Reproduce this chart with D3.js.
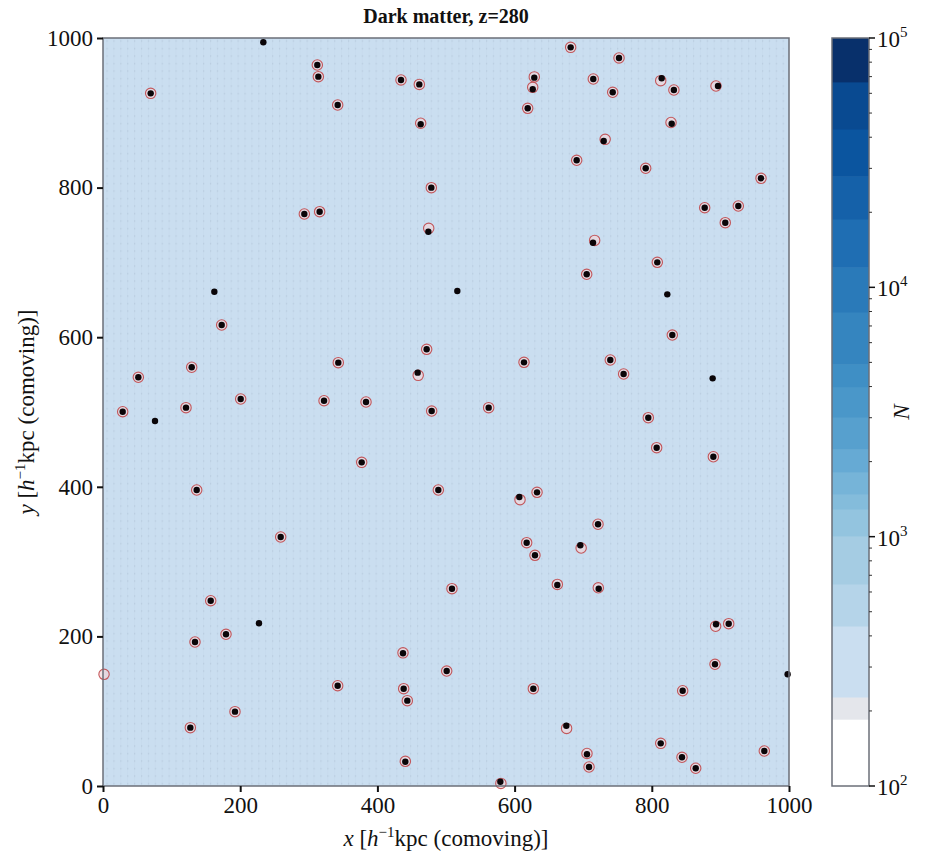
<!DOCTYPE html>
<html lang="en">
<head>
  <meta charset="UTF-8">
  <title>Dark matter, z=280</title>
  <script src="https://d3js.org/d3.v7.min.js"></script>
  <style>
    body { margin: 0; background: white; }
    text { font-family: "Liberation Serif", "DejaVu Serif", serif; fill: #111; }
  </style>
</head>
<body>
  <script>
    const width = 937;
    const height = 856;

    // ticks
    const xTicks = [0, 200, 400, 600, 800, 1000];
    const yTicks = [0, 200, 400, 600, 800, 1000];
    const cbarTicks = [1e2, 1e3, 1e4, 1e5];

    // colour levels of the density map (log10 N edges, bottom to top)
    const levelEdges = [2.0, 2.268, 2.357, 2.641, 2.810, 3.002, 3.111, 3.171, 3.259, 3.351,
                        3.480, 3.600, 3.692, 3.901, 4.081, 4.274, 4.446, 4.635, 4.824, 5.0];
    const levelColors = ["#ffffff", "#e4e6eb", "#cadef0", "#b5d4e9", "#a5cce3", "#93c4df",
                         "#84bcdb", "#76b4d8", "#66aad4", "#57a0ce", "#4a97c9", "#3f8fc5",
                         "#3585bf", "#2a7ab9", "#1f6eb3", "#1561a9", "#0b559f", "#094a91", "#08306b"];
    const backgroundLevel = 2.5;

    // black dots: particle peaks
    const dotX = [233.7, 312.4, 313.9, 69.5, 434.4, 461.1, 342.1, 463.1, 478.6, 293.5,
                  315.8, 474.3, 162.3, 173.0, 471.8, 343.0, 129.3, 51.5, 458.7, 200.7,
                  322.2, 383.4, 28.7, 121.0, 479.1,
                  75.8, 377.1, 136.6, 488.8, 259.0, 157.0, 227.4, 179.3, 134.1, 437.3,
                  501.0, 342.1, 438.3, 443.6, 192.4, 127.3, 440.7,
                  681.7, 752.2, 628.7, 626.4, 619.1, 714.7, 814.4, 743.0, 832.2, 896.5,
                  829.0, 729.9, 690.5, 791.1, 959.2, 877.1, 926.1, 907.1, 714.3, 808.0,
                  705.1, 516.5, 822.6, 829.9, 613.7, 739.5, 758.9, 888.7, 562.2,
                  794.9, 807.1, 889.7, 606.9, 632.7, 721.6, 695.8, 617.6, 629.7, 662.3,
                  722.6, 508.7, 893.6, 912.1, 892.1, 998.0, 627.3, 845.0, 675.4, 813.0,
                  705.5, 708.5, 844.0, 864.0, 964.0, 579.2];
    const dotY = [994.3, 963.9, 948.3, 926.0, 943.9, 938.0, 910.4, 884.6, 799.9, 764.7,
                  767.8, 741.0, 660.8, 616.3, 583.8, 566.0, 559.8, 546.4, 552.6, 517.4,
                  515.1, 513.4, 500.4, 505.8, 501.3,
                  488.0, 432.7, 395.7, 395.7, 332.9, 247.7, 217.5, 202.8, 192.5, 177.4,
                  153.7, 134.1, 130.1, 114.1, 99.4, 78.0, 32.5,
                  987.5, 973.3, 947.0, 931.4, 906.0, 945.2, 946.1, 927.4, 930.5, 935.8,
                  885.4, 862.3, 836.5, 825.8, 812.4, 773.1, 775.4, 753.1, 726.3, 700.1,
                  684.1, 661.8, 657.3, 602.9, 566.4, 569.5, 550.8, 545.0, 505.8,
                  492.4, 452.3, 440.2, 386.4, 392.6, 349.9, 321.8, 325.3, 308.4, 268.7,
                  263.8, 263.8, 216.2, 217.0, 162.7, 149.3, 130.1, 127.4, 80.6, 57.0,
                  42.4, 25.4, 38.4, 23.7, 46.8, 5.7];

    // red open circles: halo centres
    const haloX = [312.4, 313.9, 69.5, 434.4, 461.1, 342.1, 463.1, 478.6, 293.5,
                   315.8, 474.8, 173.0, 471.8, 343.0, 129.3, 51.5, 459.5, 200.7,
                   322.2, 383.4, 28.7, 121.0, 479.1,
                   377.1, 136.6, 488.8, 259.0, 157.0, 179.3, 134.1, 437.3,
                   501.0, 342.1, 438.3, 443.6, 192.4, 127.3, 440.7, 1.5,
                   681.7, 752.2, 628.7, 626.4, 619.1, 714.7, 813.0, 743.0, 832.2, 893.6,
                   828.0, 732.0, 690.5, 791.1, 959.2, 877.1, 926.1, 907.1, 716.7, 808.0,
                   705.1, 829.9, 613.7, 739.5, 758.9, 562.2,
                   794.9, 807.1, 889.7, 607.9, 632.7, 721.6, 697.0, 617.6, 629.7, 662.3,
                   722.0, 508.7, 893.0, 912.1, 892.1, 627.3, 845.0, 675.8, 813.0,
                   705.5, 708.5, 844.0, 864.0, 964.0, 580.0];
    const haloY = [963.9, 948.3, 926.0, 943.9, 938.0, 910.4, 886.0, 799.9, 764.7,
                   767.8, 745.5, 616.3, 583.8, 566.0, 559.8, 546.4, 549.0, 517.4,
                   515.1, 513.4, 500.4, 505.8, 501.3,
                   432.7, 395.7, 395.7, 332.9, 247.7, 202.8, 192.5, 178.0,
                   153.7, 134.1, 130.1, 114.1, 99.4, 78.0, 33.0, 149.3,
                   987.5, 973.3, 948.0, 934.0, 906.0, 945.2, 943.0, 927.4, 930.5, 935.8,
                   887.0, 864.5, 836.5, 825.8, 812.4, 773.1, 775.4, 753.1, 729.4, 700.1,
                   684.1, 602.9, 566.4, 569.5, 550.8, 505.8,
                   492.4, 452.3, 440.2, 382.8, 392.6, 349.9, 318.2, 325.3, 308.4, 269.5,
                   265.0, 263.8, 213.5, 217.0, 162.7, 130.1, 127.4, 77.0, 57.0,
                   43.5, 25.4, 38.4, 23.7, 46.8, 3.5];

    const plot = { left: 103, right: 789, top: 38, bottom: 786 };
    const cbar = { left: 832, right: 869, top: 38, bottom: 786 };

    const svg = d3.select("body").append("svg")
      .attr("width", width)
      .attr("height", height);

    const x = d3.scaleLinear().domain([0, 1000]).range([plot.left, plot.right]);
    const y = d3.scaleLinear().domain([0, 1000]).range([plot.bottom, plot.top]);
    const cy = d3.scaleLog().domain([1e2, 1e5]).range([cbar.bottom, cbar.top]);

    const colorOf = v => {
      for (let i = 0; i < levelColors.length; i++) {
        if (v >= levelEdges[i] && v < levelEdges[i + 1]) return levelColors[i];
      }
      return levelColors[levelColors.length - 1];
    };

    // faint particle-grid texture
    const defs = svg.append("defs");
    const pat = defs.append("pattern")
      .attr("id", "grain")
      .attr("width", 6.9).attr("height", 7.5)
      .attr("patternUnits", "userSpaceOnUse");
    pat.append("rect").attr("x", 3).attr("y", 3).attr("width", 1.2).attr("height", 1.2)
      .attr("fill", "#7f94ad").attr("opacity", 0.28);
    pat.append("rect").attr("x", 3.2).attr("y", 0).attr("width", 0.6).attr("height", 7.5)
      .attr("fill", "#9fb3c8").attr("opacity", 0.12);

    svg.append("rect")
      .attr("x", x(0)).attr("y", y(1000))
      .attr("width", x(1000) - x(0)).attr("height", y(0) - y(1000))
      .attr("fill", colorOf(backgroundLevel));
    svg.append("rect")
      .attr("x", x(0)).attr("y", y(1000))
      .attr("width", x(1000) - x(0)).attr("height", y(0) - y(1000))
      .attr("fill", "url(#grain)");

    // halos and peaks
    const halos = haloX.map((d, i) => [d, haloY[i]]);
    const dots = dotX.map((d, i) => [d, dotY[i]]);

    svg.append("g").selectAll("circle")
      .data(halos).enter().append("circle")
      .attr("cx", d => x(d[0]))
      .attr("cy", d => y(d[1]))
      .attr("r", 5.2)
      .attr("fill", "#f3d6d8")
      .attr("fill-opacity", 0.65)
      .attr("stroke", "#c0484b")
      .attr("stroke-opacity", 0.9)
      .attr("stroke-width", 1.1);

    svg.append("g").selectAll("circle")
      .data(dots).enter().append("circle")
      .attr("cx", d => x(d[0]))
      .attr("cy", d => y(d[1]))
      .attr("r", 3.2)
      .attr("fill", "#0a0508");

    // frame
    svg.append("rect")
      .attr("x", plot.left).attr("y", plot.top)
      .attr("width", plot.right - plot.left).attr("height", plot.bottom - plot.top)
      .attr("fill", "none").attr("stroke", "#6b6f78").attr("stroke-width", 1.5);

    // axes
    const xAxis = svg.append("g")
      .attr("transform", `translate(0,${plot.bottom})`)
      .call(d3.axisBottom(x).tickValues(xTicks).tickSize(6).tickPadding(5).tickFormat(d3.format("d")));
    const yAxis = svg.append("g")
      .attr("transform", `translate(${plot.left},0)`)
      .call(d3.axisLeft(y).tickValues(yTicks).tickSize(6).tickPadding(4).tickFormat(d3.format("d")));
    [xAxis, yAxis].forEach(a => {
      a.select(".domain").remove();
      a.selectAll(".tick line").attr("stroke", "#111").attr("stroke-width", 2);
      a.selectAll(".tick text").attr("font-size", 23).attr("font-family", "Liberation Serif").attr("fill", "#111");
    });

    // title
    svg.append("text")
      .attr("x", (plot.left + plot.right) / 2)
      .attr("y", 23)
      .attr("text-anchor", "middle")
      .attr("font-size", 20)
      .attr("font-weight", "bold")
      .text("Dark matter, z=280");

    // axis labels
    const xl = svg.append("text")
      .attr("x", (plot.left + plot.right) / 2)
      .attr("y", 846)
      .attr("text-anchor", "middle")
      .attr("font-size", 23);
    xl.append("tspan").attr("font-style", "italic").text("x");
    xl.append("tspan").text(" [");
    xl.append("tspan").attr("font-style", "italic").text("h");
    xl.append("tspan").attr("font-size", 15).attr("dy", -9).text("\u2212");
    xl.append("tspan").attr("font-size", 15).text("1");
    xl.append("tspan").attr("dy", 9).text("kpc (comoving)]");

    const yl = svg.append("text")
      .attr("transform", `translate(34,${(plot.top + plot.bottom) / 2}) rotate(-90)`)
      .attr("text-anchor", "middle")
      .attr("font-size", 23);
    yl.append("tspan").attr("font-style", "italic").text("y");
    yl.append("tspan").text(" [");
    yl.append("tspan").attr("font-style", "italic").text("h");
    yl.append("tspan").attr("font-size", 15).attr("dy", -9).text("\u2212");
    yl.append("tspan").attr("font-size", 15).text("1");
    yl.append("tspan").attr("dy", 9).text("kpc (comoving)]");

    // colorbar
    const bands = levelColors.map((c, i) => ({ lo: levelEdges[i], hi: levelEdges[i + 1], c }));
    svg.append("g").selectAll("rect")
      .data(bands).enter().append("rect")
      .attr("x", cbar.left)
      .attr("width", cbar.right - cbar.left)
      .attr("y", d => cy(Math.pow(10, d.hi)))
      .attr("height", d => cy(Math.pow(10, d.lo)) - cy(Math.pow(10, d.hi)) + 0.5)
      .attr("fill", d => d.c);

    svg.append("rect")
      .attr("x", cbar.left).attr("y", cbar.top)
      .attr("width", cbar.right - cbar.left).attr("height", cbar.bottom - cbar.top)
      .attr("fill", "none").attr("stroke", "#6b6f78").attr("stroke-width", 1.5);

    const minorTicks = [];
    for (let e = 2; e < 5; e++) {
      for (let m = 2; m <= 9; m++) minorTicks.push(m * Math.pow(10, e));
    }
    svg.append("g").selectAll("line")
      .data(minorTicks).enter().append("line")
      .attr("x1", cbar.right).attr("x2", cbar.right + 3)
      .attr("y1", d => cy(d)).attr("y2", d => cy(d))
      .attr("stroke", "#333").attr("stroke-width", 1);
    svg.append("g").selectAll("line")
      .data(cbarTicks).enter().append("line")
      .attr("x1", cbar.right).attr("x2", cbar.right + 6)
      .attr("y1", d => cy(d)).attr("y2", d => cy(d))
      .attr("stroke", "#111").attr("stroke-width", 1.5);

    const cl = svg.append("g").selectAll("text")
      .data(cbarTicks).enter().append("text")
      .attr("x", cbar.right + 8)
      .attr("y", d => cy(d) + 9)
      .attr("font-size", 23);
    cl.append("tspan").text("10");
    cl.append("tspan").attr("font-size", 15).attr("dy", -10).text(d => Math.round(Math.log10(d)));

    svg.append("text")
      .attr("transform", `translate(909,${(cbar.top + cbar.bottom) / 2}) rotate(-90)`)
      .attr("text-anchor", "middle")
      .attr("font-size", 23)
      .attr("font-style", "italic")
      .text("N");
  </script>
</body>
</html>
